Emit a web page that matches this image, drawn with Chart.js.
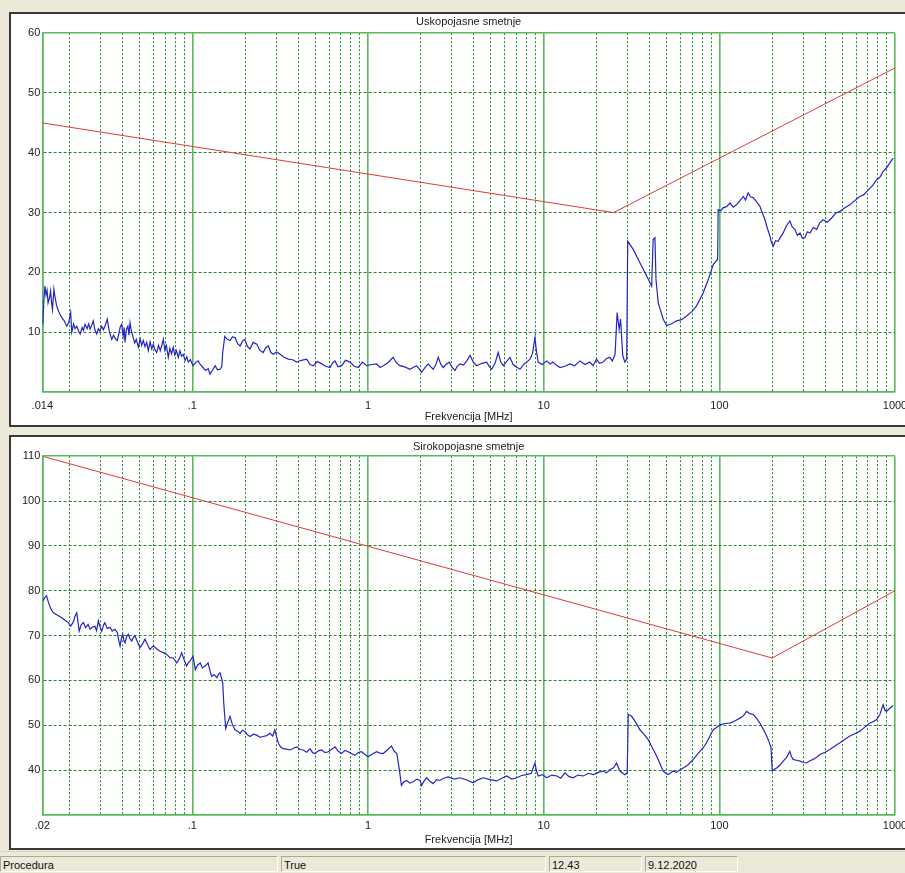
<!DOCTYPE html>
<html><head><meta charset="utf-8">
<script src="https://cdn.jsdelivr.net/npm/chart.js@4.4.1/dist/chart.umd.min.js"></script>
<style>
html,body{margin:0;padding:0;}
body{width:905px;height:873px;background:#ece9d8;position:relative;overflow:hidden;font-family:"Liberation Sans",Arial,sans-serif;}
.panel{position:absolute;left:9px;width:894px;height:411px;background:#fff;border:2px solid #3a3a3a;}
#p1{top:12px;}
#p2{top:435px;}
.panel canvas{position:absolute;left:0;top:0;}
.sb{position:absolute;top:856px;height:16px;border:1px solid;border-color:#aca899 #fdfdfb #fdfdfb #aca899;font-size:11px;line-height:16px;padding-left:2px;color:#111;box-sizing:border-box;white-space:nowrap;}
#sbline{position:absolute;left:0;top:851px;width:905px;height:1px;background:#d6d2c2;}
</style>
</head><body>
<div class="panel" id="p1"><canvas id="c1" width="894" height="411"></canvas></div>
<div class="panel" id="p2"><canvas id="c2" width="894" height="411"></canvas></div>
<div id="sbline"></div>
<div class="sb" style="left:0;width:278px;">Procedura</div>
<div class="sb" style="left:281px;width:265px;">True</div>
<div class="sb" style="left:549px;width:93px;">12.43</div>
<div class="sb" style="left:645px;width:93px;">9.12.2020</div>
<script>
// ---------- DATA ----------
const topTitle = 'Uskopojasne smetnje';
const botTitle = 'Sirokopojasne smetnje';
const xAxisTitle = 'Frekvencija [MHz]';

const xTickValues = [0.014, 0.1, 1, 10, 100, 1000];
const topXTickLabels = ['.014', '.1', '1', '10', '100', '1000'];
const botXTickLabels = ['.02', '.1', '1', '10', '100', '1000'];
const topYTickLabels = [10, 20, 30, 40, 50, 60];
const botYTickLabels = [40, 50, 60, 70, 80, 90, 100, 110];

// Narrowband: limit line (red)
const topLimitFreq = [0.014, 25, 1000];
const topLimitDb   = [45, 30, 54.2];
// Narrowband: measured trace (blue)
const topFreqMHz = [0.0141,0.0143,0.0145,0.0147,0.0149,0.0151,0.0154,0.0156,0.0158,0.0160,0.0163,0.0166,0.0169,0.0173,0.0177,0.0181,0.0186,0.0193,0.0198,0.0203,0.0206,0.0211,0.0215,0.0220,0.0225,0.0230,0.0236,0.0240,0.0245,0.0252,0.0257,0.0262,0.0268,0.0273,0.0279,0.0286,0.0292,0.0298,0.0305,0.0312,0.0320,0.0328,0.0335,0.0341,0.0348,0.0356,0.0365,0.0374,0.0382,0.0389,0.0396,0.0404,0.0409,0.0414,0.0422,0.0430,0.0436,0.0442,0.0450,0.0461,0.0470,0.0480,0.0493,0.0505,0.0515,0.0526,0.0538,0.0550,0.0562,0.0575,0.0588,0.0600,0.0612,0.0627,0.0642,0.0657,0.0672,0.0684,0.0698,0.0712,0.0730,0.0745,0.0762,0.0779,0.0795,0.0812,0.0832,0.0850,0.0868,0.0888,0.0910,0.0930,0.0949,0.0975,0.101,0.105,0.108,0.111,0.115,0.119,0.123,0.126,0.130,0.135,0.139,0.144,0.147,0.149,0.153,0.158,0.164,0.169,0.175,0.181,0.187,0.193,0.199,0.206,0.213,0.222,0.233,0.242,0.253,0.262,0.271,0.280,0.289,0.302,0.316,0.333,0.352,0.372,0.393,0.418,0.448,0.468,0.488,0.515,0.545,0.575,0.608,0.630,0.649,0.675,0.708,0.745,0.790,0.835,0.880,0.930,0.983,1.05,1.12,1.17,1.22,1.30,1.39,1.45,1.52,1.62,1.73,1.81,1.89,1.95,2.02,2.10,2.20,2.28,2.35,2.43,2.51,2.60,2.68,2.78,2.90,3.00,3.13,3.22,3.34,3.50,3.65,3.81,3.98,4.16,4.45,4.74,4.90,5.06,5.30,5.51,5.70,5.89,6.15,6.43,6.70,7.00,7.33,7.70,8.00,8.36,8.65,8.92,9.10,9.31,9.80,10.4,10.9,11.3,11.8,12.4,13.2,14.1,15.0,16.1,17.2,18.3,19.1,20.0,20.8,21.8,22.8,23.8,24.6,25.5,26.2,26.9,27.4,28.2,29.0,29.7,30.1,32.4,35.3,38.6,41.2,42.0,43.0,43.6,44.9,47.9,50.1,53.5,57.1,61.0,65.1,69.5,74.2,81.0,86.5,92.3,97.8,98.5,102,105,110,115,120,125,131,137,141,146,151,156,163,170,176,182,188,194,198,203,209,216,223,231,241,252,260,269,278,288,297,307,317,328,343,358,373,390,412,436,460,486,518,554,590,631,665,704,745,786,820,856,895,935,976];
const topLevelDb = [11.3,15.5,17.7,16.2,17.0,14.9,15.8,16.9,15.0,13.8,17.2,15.6,14.4,13.6,12.9,12.4,12.0,11.0,11.6,13.3,10.0,11.4,10.6,11.0,10.2,9.7,10.8,10.3,11.3,10.6,11.4,10.5,11.2,11.9,10.4,9.7,10.6,10.2,11.0,10.4,11.2,12.2,10.5,9.6,8.8,9.5,8.9,8.6,9.8,10.9,11.3,9.4,10.8,8.3,10.5,11.0,9.5,11.6,10.2,9.1,8.2,8.8,7.5,8.9,7.8,8.6,7.6,8.3,6.9,8.4,7.2,8.0,7.1,6.6,7.8,6.9,7.9,8.8,7.0,7.8,5.8,7.3,6.4,7.5,6.2,6.9,5.8,6.9,6.0,6.3,5.3,5.9,5.0,5.4,4.4,5.0,5.2,4.6,4.1,3.6,3.9,3.0,3.6,4.4,3.7,3.8,4.2,6.6,9.3,8.8,8.6,9.2,9.1,8.1,7.7,8.5,8.8,7.6,7.2,8.3,8.0,7.0,6.6,7.4,7.7,6.6,6.3,6.7,6.3,5.8,5.5,5.4,5.0,5.3,5.5,4.6,4.4,5.1,4.7,4.3,4.1,4.9,5.2,4.2,4.4,5.3,5.0,4.3,4.1,5.0,4.4,4.6,4.7,4.1,4.4,4.9,5.8,4.9,4.4,4.2,3.8,4.1,4.4,3.9,3.3,4.0,4.7,4.2,3.8,4.5,5.8,4.6,4.1,4.6,5.0,4.2,3.6,4.3,4.7,4.5,5.2,6.1,5.0,4.4,4.8,5.0,4.3,3.8,4.9,6.6,5.0,4.4,5.1,5.8,4.6,4.2,3.8,4.6,5.0,5.5,6.5,9.1,6.8,5.0,4.6,5.2,4.7,5.0,4.5,4.1,4.3,4.7,4.4,5.2,4.6,5.0,4.4,5.5,4.8,5.0,5.6,5.8,5.2,6.3,13.3,10.5,12.2,6.1,5.0,5.5,25.2,23.8,21.6,19.4,17.7,25.5,25.8,18.8,14.9,12.2,11.1,11.4,11.9,12.1,12.7,13.4,14.4,16.6,18.8,21.3,22.2,30.5,30.3,30.8,31.0,31.6,30.9,31.3,32.0,32.7,32.1,33.3,32.6,32.5,31.8,31.1,29.9,28.8,27.3,26.1,25.0,24.4,25.3,25.2,25.9,26.6,27.8,28.6,27.6,27.2,26.2,26.6,25.7,25.8,26.8,26.6,27.5,27.2,28.3,28.8,28.4,29.1,29.9,30.2,30.8,31.3,32.0,32.7,33.0,33.8,34.5,35.5,35.9,36.9,37.5,38.3,39.1];

// Broadband: limit line (red)
const botLimitFreq = [0.014, 200, 1000];
const botLimitDb   = [110, 65, 80];
// Broadband: measured trace (blue)
const botFreqMHz = [0.0141,0.0145,0.0148,0.0152,0.0157,0.0162,0.0170,0.0177,0.0186,0.0197,0.0203,0.0210,0.0215,0.0220,0.0227,0.0233,0.0240,0.0247,0.0255,0.0262,0.0270,0.0279,0.0285,0.0292,0.0298,0.0305,0.0312,0.0318,0.0328,0.0340,0.0350,0.0363,0.0374,0.0381,0.0388,0.0395,0.0402,0.0408,0.0414,0.0423,0.0432,0.0442,0.0452,0.0462,0.0472,0.0488,0.0504,0.0520,0.0538,0.0555,0.0574,0.0587,0.0600,0.0628,0.0655,0.0685,0.0715,0.0745,0.0779,0.0795,0.0815,0.0842,0.0870,0.0900,0.0929,0.0950,0.0970,0.0990,0.101,0.104,0.107,0.111,0.114,0.118,0.123,0.126,0.129,0.133,0.138,0.141,0.144,0.147,0.149,0.151,0.155,0.159,0.164,0.169,0.175,0.181,0.187,0.193,0.199,0.206,0.213,0.223,0.233,0.243,0.253,0.265,0.277,0.287,0.295,0.302,0.309,0.318,0.329,0.344,0.360,0.376,0.393,0.410,0.428,0.448,0.468,0.484,0.499,0.522,0.545,0.570,0.594,0.620,0.649,0.678,0.708,0.740,0.772,0.805,0.843,0.880,0.920,0.960,1.00,1.06,1.12,1.17,1.22,1.29,1.36,1.41,1.46,1.51,1.55,1.60,1.66,1.73,1.81,1.90,1.98,2.02,2.08,2.16,2.25,2.35,2.46,2.57,2.70,2.86,3.10,3.34,3.65,3.97,4.25,4.53,4.95,5.40,5.78,6.16,6.58,7.02,7.50,8.00,8.50,8.92,9.10,9.31,9.85,10.4,11.1,11.9,12.5,13.2,13.9,14.7,15.7,16.8,18.0,19.2,20.5,21.8,22.8,23.8,25.0,26.0,27.2,29.0,29.9,30.3,31.7,33.5,35.3,37.3,39.4,41.7,44.0,45.9,47.9,49.5,51.2,54.6,57.0,59.7,62.3,65.1,68.0,71.0,74.2,77.5,81.0,84.6,88.4,92.3,96.4,101,108,115,123,131,137,143,149,156,163,170,178,186,192,197,200,206,212,221,231,241,252,257,263,275,288,300,314,328,342,358,374,400,426,455,486,519,554,591,631,674,719,752,786,820,856,875,895,935,976];
const botLevelDb = [77.8,78.5,78.9,77.3,75.9,75.1,74.6,74.2,73.6,72.9,72.1,73.0,74.3,75.1,71.0,72.4,72.9,71.8,72.5,71.4,71.9,72.1,71.1,73.3,72.0,71.0,72.3,72.9,71.6,71.8,71.0,71.4,70.7,69.0,67.7,69.5,70.3,68.9,68.4,69.8,70.3,69.3,68.8,69.6,69.9,68.5,67.3,68.1,69.2,68.0,66.9,67.3,67.7,67.0,66.5,66.2,65.8,65.1,65.0,64.5,63.9,64.8,66.2,64.5,63.2,64.0,64.3,64.9,65.4,62.4,63.4,63.9,62.8,63.2,63.9,62.2,60.9,61.3,60.6,61.4,61.7,60.3,59.4,54.9,49.3,50.6,52.0,50.2,49.0,48.7,48.2,48.9,48.6,47.9,47.5,48.0,47.8,47.3,47.5,47.7,48.2,47.6,49.0,47.4,46.0,45.2,44.8,44.7,44.5,44.9,45.2,44.6,44.5,44.0,44.8,43.9,43.7,44.3,44.5,43.9,44.1,44.6,45.2,44.2,43.7,44.4,44.1,43.7,43.3,43.9,44.1,43.5,43.0,43.6,44.1,43.8,43.7,44.5,45.4,44.2,43.7,40.0,36.6,37.4,37.7,37.1,37.4,38.0,37.7,36.6,37.5,38.3,37.5,37.0,37.9,37.7,38.2,38.5,38.0,38.3,37.8,37.2,37.9,38.3,37.9,37.6,38.2,38.7,38.0,38.3,38.8,39.0,39.3,41.6,39.8,38.7,39.0,38.3,38.9,38.7,38.2,39.4,38.6,38.3,38.9,38.7,39.3,39.0,39.5,39.8,39.4,40.1,40.5,41.6,39.8,39.0,39.4,52.4,52.0,50.6,49.0,48.0,46.8,44.9,43.1,41.5,39.8,39.3,39.0,39.8,39.5,40.1,40.5,40.9,41.6,42.4,43.3,44.2,45.0,46.1,47.6,49.0,49.5,50.1,50.4,50.5,51.0,51.6,52.1,53.1,52.6,52.4,51.6,50.5,49.1,47.6,46.3,45.0,39.8,40.2,40.5,41.1,42.0,42.8,44.2,43.1,42.4,42.2,42.0,41.7,41.6,42.1,42.4,42.9,43.5,44.0,44.6,45.4,46.1,46.9,47.6,48.1,48.7,49.6,50.5,50.8,51.3,52.4,54.6,53.4,53.1,53.8,54.4];

// ---------- CHART ----------
const FONT = '"Liberation Sans", Arial, sans-serif';
const SOLID_GREEN = '#5cb85c';
const MINOR_GREEN = '#1f8a1f';
const HGRID_GREEN = '#2f7f2f';
const SOLID_W = 1.6;

// grid positions: 1..9 per decade between axis limits
const xGridValues = [0.014];
for (let e = -2; e <= 2; e++) {
  for (let m = 1; m <= 9; m++) {
    const v = parseFloat((m * Math.pow(10, e)).toPrecision(3));
    if (v > 0.014 && v < 1000) xGridValues.push(v);
  }
}
xGridValues.push(1000);

function near(a, b) { return Math.abs(a / b - 1) < 1e-6; }
function isDecade(v) { return xTickValues.some(t => near(v, t)); }
function xMinor(c) { return !!(c.tick && !isDecade(c.tick.value)); }

function zip(xs, ys) { return xs.map((x, i) => ({x: x, y: ys[i]})); }

function makeChart(id, title, titlePad, xLabels, yMin, yMax, yLabels, limF, limV, trF, trV, xPad) {
  const yInner = c => !!(c.tick && c.tick.value !== yMax && c.tick.value !== yMin);
  return new Chart(document.getElementById(id), {
    type: 'line',
    data: {
      datasets: [
        {data: zip(limF, limV), borderColor: '#e03a3a', borderWidth: 1, pointRadius: 0, tension: 0},
        {data: zip(trF, trV), borderColor: '#2424c8', borderWidth: 1.2, pointRadius: 0, tension: 0}
      ]
    },
    options: {
      responsive: false, animation: false, devicePixelRatio: 1,
      layout: {padding: {left: 0, right: 10, top: 0, bottom: 0}},
      plugins: {
        legend: {display: false}, tooltip: {enabled: false},
        title: {display: true, text: title, fullSize: false, color: '#222',
                font: {family: FONT, size: 11, weight: 'normal'}, padding: titlePad}
      },
      scales: {
        x: {
          type: 'logarithmic', min: 0.014, max: 1000,
          afterBuildTicks: s => { s.ticks = xGridValues.map(v => ({value: v, major: false})); },
          afterFit: s => { s.height = 33; s.paddingLeft = 0; s.paddingRight = 0; },
          ticks: {
            autoSkip: false, maxRotation: 0, minRotation: 0, padding: xPad, color: '#222',
            font: {family: FONT, size: 11},
            major: {enabled: false},
            callback: v => { const i = xTickValues.findIndex(t => near(v, t)); return i >= 0 ? xLabels[i] : ''; }
          },
          grid: {drawTicks: false,
                 lineWidth: c => xMinor(c) ? 1 : SOLID_W,
                 color: c => xMinor(c) ? MINOR_GREEN : SOLID_GREEN},
          border: {display: true, color: SOLID_GREEN, width: SOLID_W,
            dash: c => xMinor(c) ? [2, 2] : []},
          title: {display: true, text: xAxisTitle, color: '#222', font: {family: FONT, size: 11},
                  padding: {top: 0, bottom: 1}}
        },
        y: {
          min: yMin, max: yMax,
          afterFit: s => { s.width = 31.3; },
          ticks: {stepSize: 10, padding: 2, color: '#222', font: {family: FONT, size: 11},
                  callback: v => yLabels.includes(v) ? String(v) : ''},
          grid: {
            drawTicks: false,
            lineWidth: c => yInner(c) ? 1 : SOLID_W,
            color: c => yInner(c) ? HGRID_GREEN : SOLID_GREEN
          },
          border: {display: true, color: SOLID_GREEN, width: SOLID_W,
            dash: c => yInner(c) ? [3, 2] : []}
        }
      }
    }
  });
}

makeChart('c1', topTitle, {top: 1, bottom: 5}, topXTickLabels, 0, 60, topYTickLabels,
          topLimitFreq, topLimitDb, topFreqMHz, topLevelDb, 7);
makeChart('c2', botTitle, {top: 3, bottom: 3}, botXTickLabels, 30, 110, botYTickLabels,
          botLimitFreq, botLimitDb, botFreqMHz, botLevelDb, 4);
</script>
</body></html>
